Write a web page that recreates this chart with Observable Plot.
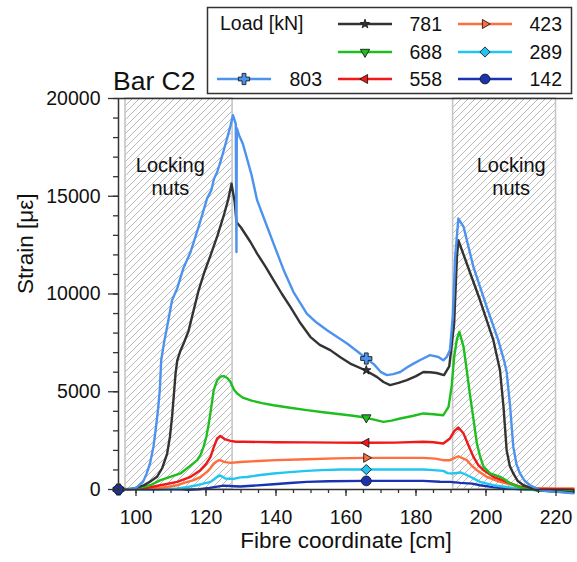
<!DOCTYPE html>
<html><head><meta charset="utf-8">
<script src="https://cdn.jsdelivr.net/npm/d3@7"></script>
<script src="https://cdn.jsdelivr.net/npm/@observablehq/plot@0.6"></script>
<style>
body{margin:0;background:#fff;font-family:"Liberation Sans",Arial,sans-serif;}
#wrap{position:relative;width:577px;height:562px;overflow:hidden;background:#fff}
#chart{position:absolute;left:0;top:0}
#overlay{position:absolute;left:0;top:0}
</style></head>
<body>
<svg width="0" height="0" style="position:absolute">
  <defs>
    <pattern id="hatch" patternUnits="userSpaceOnUse" width="7" height="7">
      <path d="M-1,1 L1,-1 M0,7 L7,0 M6,8 L8,6" stroke="#b9b9b9" stroke-width="1"/>
    </pattern>
  </defs>
</svg>
<div id="wrap"><div id="chart"></div><svg id="overlay" width="577" height="100"></svg></div>
<script>
// ---------- data ----------
const loads = [803, 781, 688, 558, 423, 289, 142];
const colors = ["#4d93ee", "#333333", "#1fbe1f", "#f01818", "#ff6e3d", "#22c5f0", "#1a33b0"];

const load803 = [[95,0],[98,20],[100,80],[102,390],[103,800],[104,1330],[105,2200],[105.6,3030],[106.3,4100],[106.8,5080],[107.2,6610],[108,7500],[108.9,8320],[110.3,9680],[111.8,10300],[113.5,11300],[115.6,12150],[118,13500],[120.3,14880],[121.5,15300],[122.3,15900],[123.2,16240],[124.1,16750],[125,17300],[126,17950],[127,18600],[127.7,19150],[128.5,18700],[128.7,12150],[128.8,18480],[129.5,18100],[130.5,17700],[131.6,17000],[133,16100],[134.6,14800],[136.5,13900],[139.3,12580],[142.2,11220],[145,10100],[148.8,9000],[151.5,8550],[154.6,8150],[157.5,7800],[160.3,7470],[163,7100],[165.8,6700],[168,6400],[170,6000],[171.7,5850],[173.5,5900],[175.5,6010],[177.5,6250],[179.3,6440],[181.5,6650],[184,6870],[186.4,6780],[187.8,6610],[188.8,6780],[189.7,7130],[190.5,8830],[191.2,11900],[192.1,13860],[193.6,13430],[196.4,11390],[200.2,9340],[203.5,7640],[205.3,6500],[205.9,6010],[206.9,4230],[207.8,2180],[208.7,1300],[209.7,820],[211,450],[212.6,220],[215.4,-35],[220.2,-120],[225,-200]];
const load781 = [[95,0],[99,30],[102.2,210],[104,400],[106,650],[107.5,1100],[108.9,1840],[109.7,2700],[110.3,3710],[110.8,4800],[111.3,5930],[111.8,6610],[112.7,7100],[113.6,7470],[115,8100],[116,8830],[117.9,10190],[119.5,11100],[121.3,11980],[123.3,13000],[125.1,14030],[126.3,14800],[127.3,15640],[128.2,14700],[128.7,13680],[130,13400],[132.7,12660],[134.6,12070],[137,11400],[139.3,10710],[141.7,10000],[144.1,9340],[147,8500],[149.8,7810],[152.5,7400],[155.5,7130],[158.5,6750],[161.2,6440],[165.5,6100],[168.8,5760],[170.7,5500],[172.6,5340],[175,5450],[177.4,5590],[180,5800],[182.1,6010],[184,6000],[185.9,5960],[188,5850],[189.5,6300],[190.9,8490],[191.7,11900],[192.1,12750],[194.5,11560],[198.3,9680],[202.1,7640],[204,6100],[205,4230],[205.9,2010],[206.8,1200],[207.8,820],[209,450],[210.7,220],[214.5,-35],[220,-100],[225,-150]];
const load688 = [[95,0],[100,60],[104.1,220],[107,480],[109.8,650],[112.7,820],[115.1,1160],[117.5,1500],[118.5,1800],[119.3,2180],[120.1,2700],[120.8,3370],[121.5,4200],[122.2,5080],[123.2,5590],[124.2,5780],[125.1,5800],[126.1,5700],[127,5500],[128,5100],[128.9,4910],[130.5,4700],[133,4550],[136,4420],[139.3,4310],[144,4180],[148.8,4060],[153.5,3950],[158.4,3850],[162,3770],[165.5,3680],[168,3570],[170.7,3460],[173,3520],[175.5,3630],[179,3760],[182.1,3890],[185,3850],[187.8,3800],[189.3,4230],[190.2,5300],[190.9,6780],[191.7,7700],[192.4,8060],[193.6,7290],[194.5,6100],[195.5,4740],[196.5,3500],[197.4,2350],[198.3,1700],[199.3,1160],[201.2,820],[204,650],[205.5,500],[206.9,310],[210.7,50],[215,-35],[220,-70],[225,-80]];
const load558 = [[95,0],[98,10],[102.2,50],[107,220],[111.8,390],[113.5,500],[115.6,650],[118.4,990],[120,1300],[121.3,1670],[122.3,2200],[123.2,2610],[124.1,2740],[125.5,2560],[127,2490],[128.5,2440],[130.8,2440],[140,2420],[148.8,2410],[157,2400],[165.5,2390],[174,2400],[182.1,2440],[185,2420],[187.8,2350],[189.7,2610],[191,3000],[192.1,3170],[193.6,2860],[195,2250],[196.4,1670],[197.8,1250],[199.3,990],[202.1,650],[205.9,390],[209.7,130],[215,30],[220,10],[225,0]];
const load423 = [[95,0],[100,20],[107,80],[111.8,220],[114,350],[116.5,480],[118.5,650],[120.3,900],[121.3,1100],[122.2,1330],[123.6,1500],[124.5,1470],[125.1,1410],[127,1360],[129.8,1410],[135,1460],[140,1500],[148.8,1550],[157,1590],[165.5,1620],[174,1620],[182.1,1620],[185.5,1580],[187.8,1500],[189.7,1500],[192.1,1700],[194.5,1500],[196,1200],[197.4,990],[200.2,650],[204,390],[207.8,220],[212,80],[220,50],[225,50]];
const load289 = [[95,0],[105,10],[111.8,50],[114.5,120],[117.5,220],[121.3,390],[122.5,550],[123.2,650],[124.1,720],[125.5,560],[127.9,540],[129.8,620],[131.7,640],[135,730],[139.3,820],[144,890],[148.8,950],[153,990],[158.4,1020],[165.5,1020],[174,1020],[182.1,1020],[185,990],[187.8,950],[189,840],[190.5,820],[192.7,870],[194,780],[195.5,650],[198.3,390],[202.1,220],[207.8,80],[215,-60],[220,-100],[225,-110]];
const load142 = [[95,0],[105,0],[112,20],[115,-10],[118,10],[121,80],[125,200],[128,170],[129.8,150],[133,190],[139.3,270],[144,330],[148.8,390],[155,420],[165.5,440],[174,440],[182,440],[186.9,400],[189.7,390],[192.7,340],[196,300],[198.3,220],[202,120],[205.9,50],[212,0],[220,-40],[225,-50]];
const curves = [load803, load781, load688, load558, load423, load289, load142];

const markerX = [95, 165.8];
const markerStrain = [6700, 6100, 3680, 2390, 1620, 1020, 440];

const nutZones = [{x1: 97, x2: 127.6}, {x1: 190.6, x2: 220}];
const nutLabels = [{x: 109.8, y: 16050, text: "Locking\nnuts"}, {x: 207.2, y: 16050, text: "Locking\nnuts"}];

const majorX = [100, 120, 140, 160, 180, 200, 220];
const minorX = d3.range(95, 226, 5);
const majorY = [0, 5000, 10000, 15000, 20000];
const minorY = d3.range(0, 20001, 1000);

// ---------- symbols ----------
function tri(angleDeg, R) {
  const a = angleDeg * Math.PI / 180;
  return {draw(ctx) {
    for (let i = 0; i < 3; i++) {
      const t = a + i * 2 * Math.PI / 3;
      const px = R * Math.sin(t), py = -R * Math.cos(t);
      i ? ctx.lineTo(px, py) : ctx.moveTo(px, py);
    }
    ctx.closePath();
  }};
}
const plusSym = {draw(ctx) {
  const e = 5.6, t = 1.9;
  ctx.moveTo(-t, -e); ctx.lineTo(t, -e); ctx.lineTo(t, -t); ctx.lineTo(e, -t); ctx.lineTo(e, t);
  ctx.lineTo(t, t); ctx.lineTo(t, e); ctx.lineTo(-t, e); ctx.lineTo(-t, t); ctx.lineTo(-e, t);
  ctx.lineTo(-e, -t); ctx.lineTo(-t, -t); ctx.closePath();
}};
const starSym = {draw(ctx) { d3.symbolStar.draw(ctx, 26); }};
const diamondSym = {draw(ctx) { const d = 5.1; ctx.moveTo(0,-d); ctx.lineTo(d,0); ctx.lineTo(0,d); ctx.lineTo(-d,0); ctx.closePath(); }};
const circleSym = {draw(ctx) { ctx.moveTo(4.9, 0); ctx.arc(0, 0, 4.9, 0, 2 * Math.PI); }};
const symbols = [plusSym, starSym, tri(180, 5.4), tri(-90, 5.2), tri(90, 5.2), diamondSym, circleSym];

// ---------- chart ----------
const drawOrder = [6, 5, 4, 3, 2, 1, 0];
const lineMarks = drawOrder.map(i => Plot.line(curves[i], {x: d => d[0], y: d => d[1], stroke: colors[i], strokeWidth: 2.4}));
const dotMarks = [0,1,2,3,4,5,6].map(i => Plot.dot(markerX.map(x => [x, x === 95 ? 0 : markerStrain[i]]), {
  x: d => d[0], y: d => d[1], symbol: symbols[i], r: 5, fill: colors[i], stroke: "#1b1b1b", strokeWidth: 0.9
}));

const axisStyle = {stroke: "#333", strokeWidth: 1.3, fill: "#111", label: null};

const chart = Plot.plot({
  width: 577, height: 562,
  marginLeft: 118, marginRight: 4, marginTop: 98, marginBottom: 73,
  style: {fontFamily: "'Liberation Sans', Arial, sans-serif", fontSize: "19px", color: "#111", background: "white"},
  x: {domain: [95, 225]},
  y: {domain: [0, 20000]},
  marks: [
    Plot.rect(nutZones, {x1: "x1", x2: "x2", y1: 0, y2: 20000, fill: "url(#hatch)", stroke: "#c6c6c6", strokeWidth: 1.6}),
    Plot.text(nutLabels, {x: "x", y: "y", text: "text", fontSize: 20, lineHeight: 1.15, fill: "#111"}),
    ...lineMarks,
    ...dotMarks,
    Plot.axisX(minorX, {...axisStyle, tickSize: 4, tickFormat: () => ""}),
    Plot.axisX(majorX, {...axisStyle, tickSize: 7, tickPadding: 14, tickFormat: "d", fontSize: 19.5}),
    Plot.axisY(minorY, {...axisStyle, tickSize: 5, tickFormat: () => ""}),
    Plot.axisY(majorY, {...axisStyle, tickSize: 10, tickPadding: 8, tickFormat: "d", fontSize: 19.5}),
    Plot.ruleX([95], {stroke: "#333", strokeWidth: 1.5}),
    Plot.ruleY([0], {stroke: "#333", strokeWidth: 1.5}),
    Plot.ruleY([20000], {stroke: "#333", strokeWidth: 1.5}),
    Plot.text(["Fibre coordinate [cm]"], {text: d => d, frameAnchor: "bottom", dy: 58, fontSize: 22.5, fill: "#111"}),
    Plot.text(["Strain [\u03bc\u03b5]"], {text: d => d, frameAnchor: "left", rotate: -90, dx: -93, fontSize: 22.5, fill: "#111"})
  ]
});
document.getElementById("chart").appendChild(chart);

// ---------- title + legend ----------
const ov = d3.select("#overlay").style("font-family", "'Liberation Sans', Arial, sans-serif");
ov.append("text").attr("x", 113).attr("y", 90).attr("font-size", 26.5).attr("fill", "#111").text("Bar C2");
ov.append("rect").attr("x", 207.5).attr("y", 7.5).attr("width", 364).attr("height", 86)
  .attr("fill", "white").attr("stroke", "#333").attr("stroke-width", 1.5);
ov.append("text").attr("x", 220).attr("y", 30).attr("font-size", 19.5).attr("fill", "#111").text("Load [kN]");
const legCols = [217, 338, 458], legRows = [24, 52, 79], legLabelRight = [322, 442, 562];
const legSlots = [[0, 0, 2], [1, 1, 0], [2, 1, 1], [3, 1, 2], [4, 2, 0], [5, 2, 1], [6, 2, 2]];
for (const [i, c, r] of legSlots) {
  const x0 = legCols[c], y0 = legRows[r];
  ov.append("line").attr("x1", x0).attr("x2", x0 + 54).attr("y1", y0).attr("y2", y0)
    .attr("stroke", colors[i]).attr("stroke-width", 2.6);
  const p = d3.path(); symbols[i].draw(p, 0);
  ov.append("path").attr("d", p.toString()).attr("transform", `translate(${x0 + 27},${y0})`)
    .attr("fill", colors[i]).attr("stroke", "#1b1b1b").attr("stroke-width", 0.9);
  ov.append("text").attr("x", legLabelRight[c]).attr("y", y0 + 7).attr("text-anchor", "end")
    .attr("font-size", 19.5).attr("fill", "#111").text(loads[i]);
}
</script>
</body></html>
